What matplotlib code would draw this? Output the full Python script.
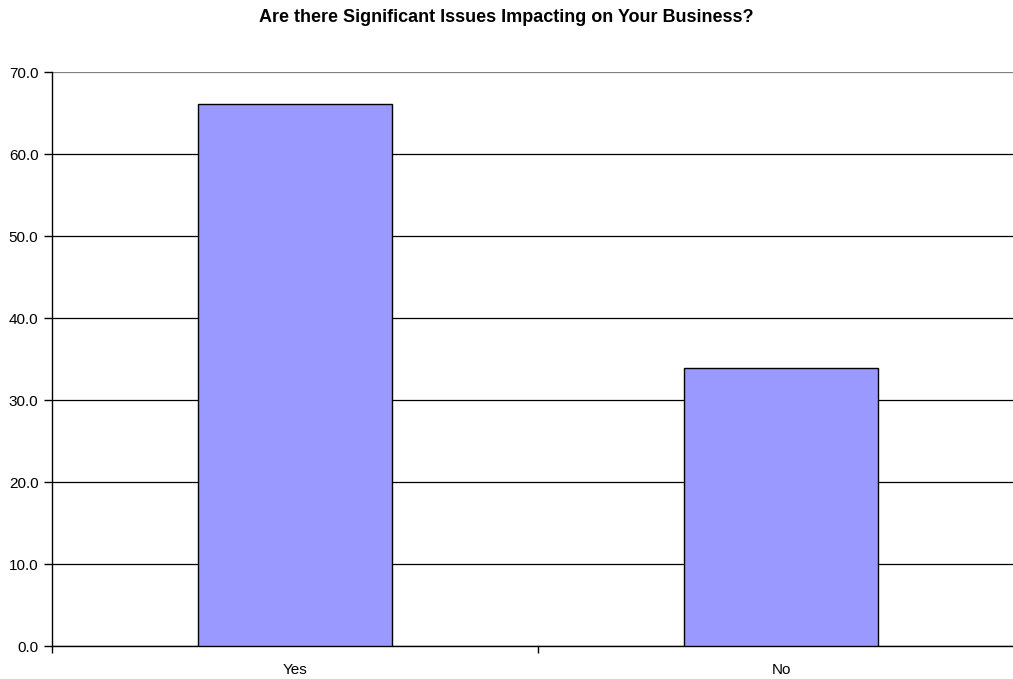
import matplotlib.pyplot as plt
from matplotlib.ticker import FixedLocator

plt.rcParams['font.family'] = ['Liberation Sans', 'DejaVu Sans']

# Data
categories = ["Yes", "No"]
values = [66.1, 33.9]
y_ticks = [0, 10, 20, 30, 40, 50, 60, 70]

fig = plt.figure(figsize=(10.13, 6.79), dpi=100)
# plot area runs a little past the right edge, as in the original
ax = fig.add_axes([52.3 / 1013, 32.7 / 679, (1024 - 52.3) / 1013, 574 / 679])

x = list(range(len(categories)))
ax.bar(x, values, width=0.4, color="#9999FF", edgecolor="black", linewidth=1, zorder=3)

ax.set_xlim(-0.5, len(categories) - 0.5)
ax.set_ylim(0, 70)
ax.set_yticks(y_ticks)
ax.set_yticklabels([f"{v:.1f}" for v in y_ticks], fontsize=11)

ax.set_xticks(x)
ax.set_xticklabels(categories, fontsize=11)
ax.tick_params(axis="x", which="major", length=0, pad=12)
ax.xaxis.set_minor_locator(FixedLocator([i - 0.5 for i in range(len(categories) + 1)]))
ax.tick_params(axis="x", which="minor", length=5, direction="out", width=1)
ax.tick_params(axis="y", length=6, direction="out", width=1, pad=4)

ax.yaxis.grid(True, color="black", linewidth=0.9)
ax.set_axisbelow(True)
ax.get_ygridlines()[-1].set_color("gray")

for s in ["top", "right"]:
    ax.spines[s].set_visible(False)
ax.spines["left"].set_linewidth(1)
ax.spines["bottom"].set_linewidth(1)

fig.text(0.5, 1 - 17 / 679, "Are there Significant Issues Impacting on Your Business?",
         ha="center", va="center", fontsize=13, fontweight="bold")

fig.savefig("out.png", dpi=100)
